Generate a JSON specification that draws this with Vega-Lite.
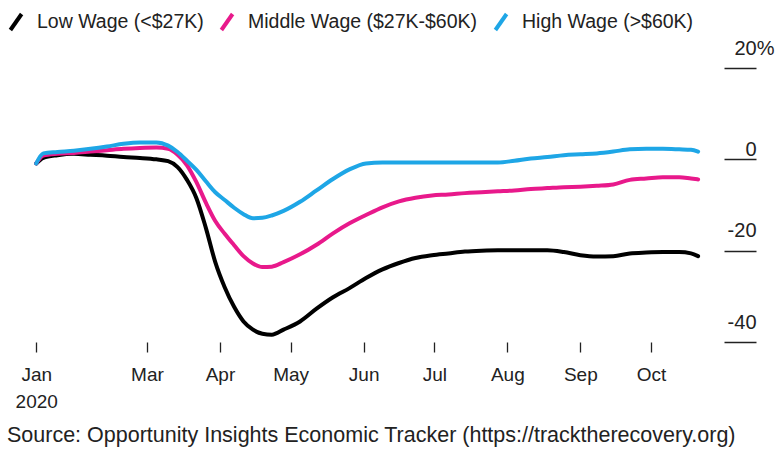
{
  "$schema": "https://vega.github.io/schema/vega-lite/v6.json",
  "width": 716,
  "height": 274,
  "autosize": {"type": "none"},
  "padding": {"left": 8, "top": 68, "right": 55, "bottom": 109},
  "background": "white",
  "config": {
    "view": {"stroke": null},
    "font": "Liberation Sans",
    "axisY": {
      "orient": "right",
      "title": null,
      "domain": false,
      "grid": false,
      "tickSize": 32,
      "tickColor": "#222222",
      "tickWidth": 1.3,
      "labelAlign": "right",
      "labelBaseline": "alphabetic",
      "labelFontSize": 20,
      "labelColor": "#222222",
      "labelFlush": false,
      "labelOverlap": false,
      "labelBound": false
    }
  },
  "title": {
    "text": "Source: Opportunity Insights Economic Tracker (https://tracktherecovery.org)",
    "orient": "bottom",
    "anchor": "start",
    "fontSize": 21.5,
    "fontWeight": "normal",
    "color": "#222222",
    "offset": 14,
    "dx": 1
  },
  "layer": [
    {
      "data": {
        "values": [
          {"date": "2020/01/14", "Low": -0.9, "Middle": -0.9, "High": -0.9},
          {"date": "2020/01/17", "Low": 0.3, "Middle": 0.8, "High": 1.3},
          {"date": "2020/01/23", "Low": 0.9, "Middle": 1.2, "High": 1.6},
          {"date": "2020/01/30", "Low": 1.2, "Middle": 1.4, "High": 1.9},
          {"date": "2020/02/06", "Low": 1.0, "Middle": 1.7, "High": 2.3},
          {"date": "2020/02/13", "Low": 0.8, "Middle": 2.0, "High": 2.8},
          {"date": "2020/02/20", "Low": 0.5, "Middle": 2.3, "High": 3.4},
          {"date": "2020/02/27", "Low": 0.3, "Middle": 2.5, "High": 3.7},
          {"date": "2020/03/05", "Low": 0.0, "Middle": 2.6, "High": 3.7},
          {"date": "2020/03/10", "Low": -0.4, "Middle": 2.3, "High": 3.0},
          {"date": "2020/03/14", "Low": -1.7, "Middle": 1.0, "High": 1.6},
          {"date": "2020/03/18", "Low": -4.5, "Middle": -1.3, "High": -0.3},
          {"date": "2020/03/22", "Low": -8.5, "Middle": -5.0, "High": -2.3},
          {"date": "2020/03/26", "Low": -15.0, "Middle": -9.5, "High": -4.8},
          {"date": "2020/03/30", "Low": -22.5, "Middle": -13.5, "High": -7.2},
          {"date": "2020/04/03", "Low": -28.0, "Middle": -16.3, "High": -8.9},
          {"date": "2020/04/07", "Low": -32.3, "Middle": -18.8, "High": -10.6},
          {"date": "2020/04/11", "Low": -35.5, "Middle": -21.2, "High": -12.0},
          {"date": "2020/04/15", "Low": -37.3, "Middle": -22.8, "High": -12.9},
          {"date": "2020/04/19", "Low": -38.2, "Middle": -23.6, "High": -12.8},
          {"date": "2020/04/23", "Low": -38.4, "Middle": -23.5, "High": -12.3},
          {"date": "2020/04/28", "Low": -37.3, "Middle": -22.5, "High": -11.3},
          {"date": "2020/05/05", "Low": -35.5, "Middle": -20.8, "High": -9.3},
          {"date": "2020/05/12", "Low": -32.7, "Middle": -18.7, "High": -6.8},
          {"date": "2020/05/19", "Low": -30.2, "Middle": -16.2, "High": -4.3},
          {"date": "2020/05/26", "Low": -28.2, "Middle": -14.0, "High": -2.2},
          {"date": "2020/06/02", "Low": -26.0, "Middle": -12.2, "High": -0.9},
          {"date": "2020/06/09", "Low": -24.1, "Middle": -10.5, "High": -0.7},
          {"date": "2020/06/16", "Low": -22.7, "Middle": -9.2, "High": -0.7},
          {"date": "2020/06/23", "Low": -21.6, "Middle": -8.4, "High": -0.7},
          {"date": "2020/06/30", "Low": -21.0, "Middle": -7.9, "High": -0.7},
          {"date": "2020/07/07", "Low": -20.6, "Middle": -7.7, "High": -0.7},
          {"date": "2020/07/14", "Low": -20.2, "Middle": -7.4, "High": -0.7},
          {"date": "2020/07/21", "Low": -20.0, "Middle": -7.2, "High": -0.7},
          {"date": "2020/07/28", "Low": -19.9, "Middle": -7.0, "High": -0.7},
          {"date": "2020/08/04", "Low": -19.9, "Middle": -6.8, "High": -0.3},
          {"date": "2020/08/11", "Low": -19.9, "Middle": -6.5, "High": 0.2},
          {"date": "2020/08/18", "Low": -19.9, "Middle": -6.3, "High": 0.5},
          {"date": "2020/08/25", "Low": -20.3, "Middle": -6.1, "High": 0.9},
          {"date": "2020/09/01", "Low": -21.0, "Middle": -6.0, "High": 1.1},
          {"date": "2020/09/08", "Low": -21.3, "Middle": -5.8, "High": 1.3},
          {"date": "2020/09/15", "Low": -21.2, "Middle": -5.5, "High": 1.7},
          {"date": "2020/09/22", "Low": -20.6, "Middle": -4.5, "High": 2.2},
          {"date": "2020/09/29", "Low": -20.4, "Middle": -4.2, "High": 2.3},
          {"date": "2020/10/06", "Low": -20.3, "Middle": -3.9, "High": 2.3},
          {"date": "2020/10/13", "Low": -20.3, "Middle": -3.9, "High": 2.2},
          {"date": "2020/10/18", "Low": -20.6, "Middle": -4.2, "High": 2.1},
          {"date": "2020/10/21", "Low": -21.2, "Middle": -4.4, "High": 1.7}
        ]
      },
      "transform": [
        {"fold": ["Low", "Middle", "High"], "as": ["series", "value"]}
      ],
      "mark": {"type": "line", "strokeWidth": 4, "interpolate": "monotone", "strokeCap": "round", "strokeJoin": "round"},
      "encoding": {
        "x": {
          "field": "date",
          "type": "temporal",
          "scale": {"domain": [{"year": 2020, "month": 1, "date": 2}, {"year": 2020, "month": 11, "date": 1}]},
          "axis": {
            "title": null,
            "domain": false,
            "grid": false,
            "values": [
              {"year": 2020, "month": 1, "date": 14},
              {"year": 2020, "month": 3, "date": 1},
              {"year": 2020, "month": 4, "date": 1},
              {"year": 2020, "month": 5, "date": 1},
              {"year": 2020, "month": 6, "date": 1},
              {"year": 2020, "month": 7, "date": 1},
              {"year": 2020, "month": 8, "date": 1},
              {"year": 2020, "month": 9, "date": 1},
              {"year": 2020, "month": 10, "date": 1}
            ],
            "tickSize": 10,
            "tickColor": "#222222",
            "tickWidth": 1.3,
            "labelPadding": 13,
            "labelFontSize": 19,
            "labelColor": "#222222",
            "labelLineHeight": 27,
            "labelFlush": false,
            "labelOverlap": false,
            "labelExpr": "month(datum.value) == 0 ? ['Jan', '2020'] : timeFormat(datum.value, '%b')"
          }
        },
        "y": {
          "field": "value",
          "type": "quantitative",
          "scale": {"domain": [-40, 20], "nice": false, "zero": false},
          "axis": {
            "values": [-40, -20, 0, 20],
            "labelPadding": {"condition": {"test": "datum.value == 20", "value": 18}, "value": 0},
            "labelOffset": {"condition": {"test": "datum.value == 0", "value": -4}, "value": -14},
            "labelExpr": "datum.value == 20 ? '20%' : '' + datum.value"
          }
        },
        "color": {
          "field": "series",
          "type": "nominal",
          "scale": {"domain": ["Low", "Middle", "High"], "range": ["#000000", "#e8198b", "#1ea6e6"]},
          "legend": {
            "orient": "none",
            "legendX": -2,
            "legendY": -56,
            "direction": "horizontal",
            "title": null,
            "padding": 0,
            "symbolType": "M-0.7,1L0.7,-1",
            "symbolSize": 256,
            "symbolStrokeWidth": 4,
            "symbolFillColor": "transparent",
            "labelFontSize": 19.5,
            "labelLimit": 0,
            "labelColor": "#222222",
            "labelOffset": 11,
            "columnPadding": 9,
            "labelExpr": "datum.label == 'Low' ? 'Low Wage (<$27K)' : datum.label == 'Middle' ? 'Middle Wage ($27K-$60K)' : 'High Wage (>$60K)'"
          }
        }
      }
    },
    {
      "mark": {"type": "rule", "color": "#222222", "strokeWidth": 1.3},
      "encoding": {
        "y": {"datum": 0, "type": "quantitative"}
      }
    }
  ]
}
